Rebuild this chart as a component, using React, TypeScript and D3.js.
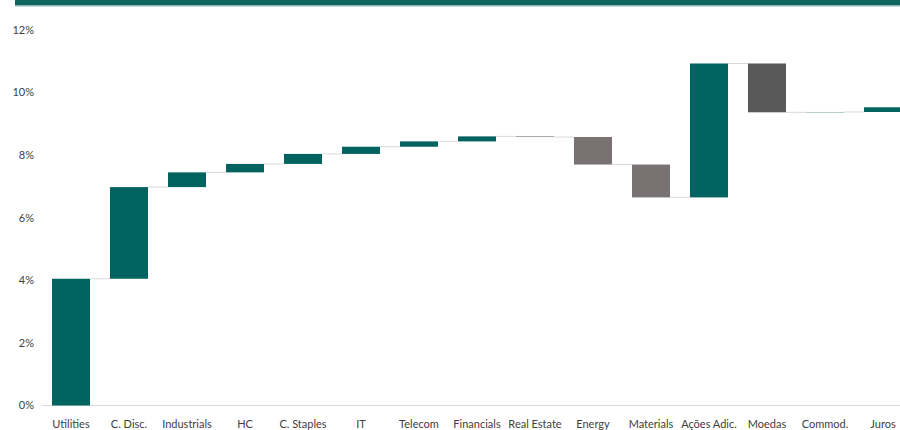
import React, { useEffect, useRef } from 'react';
import * as d3 from 'd3';

// sector / factor contributions (percentage points)
const categories = [
  'Utilities',
  'C. Disc.',
  'Industrials',
  'HC',
  'C. Staples',
  'IT',
  'Telecom',
  'Financials',
  'Real Estate',
  'Energy',
  'Materials',
  'Ações Adic.',
  'Moedas',
  'Commod.',
  'Juros',
];
const deltas = [4.05, 2.93, 0.47, 0.27, 0.32, 0.23, 0.17, 0.16, -0.02, -0.88, -1.05, 4.28, -1.56, 0.01, 0.15];
// 'sector' or 'overlay' — overlay negatives use the darker gray
const groups = [
  'sector', 'sector', 'sector', 'sector', 'sector', 'sector', 'sector', 'sector',
  'sector', 'sector', 'sector', 'overlay', 'overlay', 'overlay', 'overlay',
];
const yTicks = [0, 2, 4, 6, 8, 10, 12];

const TEAL = '#00635f';
const GRAY = '#787372';
const DARK_GRAY = '#595959';

const Waterfall: React.FC = () => {
  const ref = useRef<SVGSVGElement>(null);

  useEffect(() => {
    if (!ref.current) return;
    const svg = d3.select(ref.current);
    svg.selectAll('*').remove();

    const width = 900;

    // running totals
    let total = 0;
    const rows = categories.map((c, i) => {
      const start = total;
      total += deltas[i];
      return { cat: c, start, end: total, delta: deltas[i], group: groups[i] };
    });

    const x = d3
      .scaleBand<string>()
      .domain(categories)
      .range([42, 912])
      .paddingInner(0.345)
      .paddingOuter(0.1725);
    const y = d3.scaleLinear().domain([0, 12]).range([405.5, 30]);

    // header strip
    svg.append('rect').attr('x', 15).attr('y', 0).attr('width', width - 15).attr('height', 5.5).attr('fill', '#0f6661');
    svg.append('rect').attr('x', 15).attr('y', 5.5).attr('width', width - 15).attr('height', 1).attr('fill', '#8fb8b5');

    // baseline
    svg
      .append('line')
      .attr('x1', 42)
      .attr('x2', 912)
      .attr('y1', y(0))
      .attr('y2', y(0))
      .attr('stroke', '#d9d9d9')
      .attr('stroke-width', 1);

    // connectors
    const g = svg.append('g');
    rows.slice(0, -1).forEach((d, i) => {
      const next = rows[i + 1];
      g.append('line')
        .attr('x1', (x(d.cat) as number) + x.bandwidth())
        .attr('x2', x(next.cat) as number)
        .attr('y1', y(d.end))
        .attr('y2', y(d.end))
        .attr('stroke', '#d9d9d9')
        .attr('stroke-width', 1);
    });

    // bars
    g.selectAll('rect.bar')
      .data(rows)
      .enter()
      .append('rect')
      .attr('class', 'bar')
      .attr('x', (d) => x(d.cat) as number)
      .attr('width', x.bandwidth())
      .attr('y', (d) => y(Math.max(d.start, d.end)))
      .attr('height', (d) => Math.abs(y(d.start) - y(d.end)))
      .attr('fill', (d) => (d.delta >= 0 ? TEAL : d.group === 'overlay' ? DARK_GRAY : GRAY));

    // y axis labels
    svg
      .append('g')
      .selectAll('text')
      .data(yTicks)
      .enter()
      .append('text')
      .attr('x', 34)
      .attr('y', (d) => y(d))
      .attr('dy', '0.35em')
      .attr('text-anchor', 'end')
      .attr('font-family', 'Lato, sans-serif')
      .attr('font-size', 11)
      .attr('fill', '#404040')
      .text((d) => `${d}%`);

    // x axis labels
    svg
      .append('g')
      .selectAll('text')
      .data(categories)
      .enter()
      .append('text')
      .attr('x', (d) => (x(d) as number) + x.bandwidth() / 2)
      .attr('y', 424)
      .attr('dy', '0.35em')
      .attr('text-anchor', 'middle')
      .attr('font-family', 'Lato, sans-serif')
      .attr('font-size', 11)
      .attr('fill', '#404040')
      .text((d) => d);
  }, []);

  return (
    <svg
      ref={ref}
      width={900}
      height={430}
      style={{ position: 'absolute', left: 0, top: 0, background: '#fff' }}
    />
  );
};

export default function App() {
  return <Waterfall />;
}
